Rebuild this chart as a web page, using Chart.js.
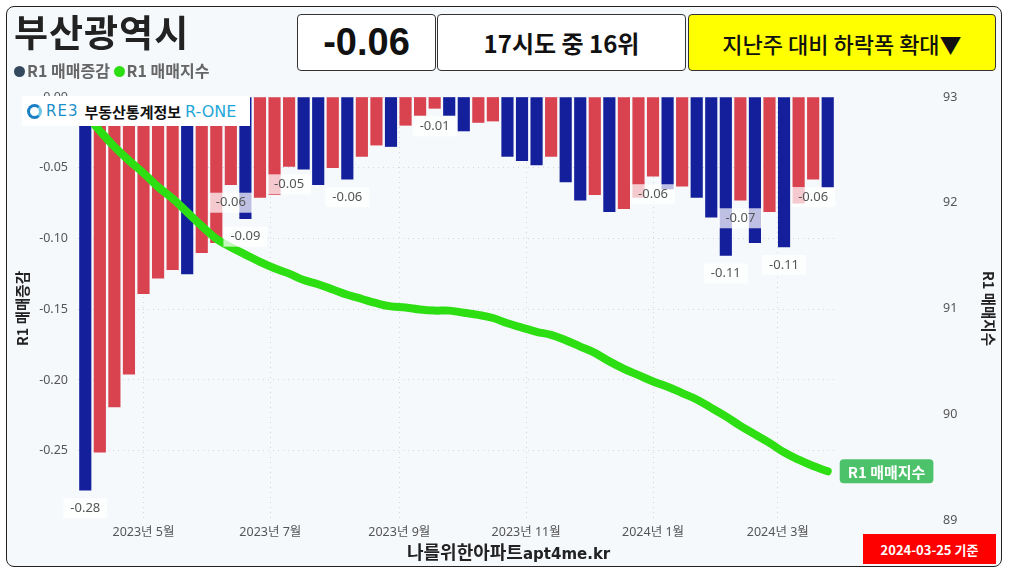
<!DOCTYPE html>
<html>
<head>
<meta charset="utf-8">
<script src="https://cdn.jsdelivr.net/npm/chart.js@4"></script>
<style>
  body { margin: 0; background: #fff; font-family: 'Noto Sans CJK KR', 'Noto Sans', sans-serif; }
  #wrap { position: relative; width: 1009px; height: 574px; overflow: hidden; }
  #card { position: absolute; left: 6px; top: 6px; width: 994px; height: 559px; border: 1.5px solid #222; border-radius: 8px; background: #f6f9fc; }
  #chart { position: absolute; left: 0; top: 0; }
  .ov { position: absolute; z-index: 2; }
  #title { left: 14px; top: 4px; font-size: 37px; font-weight: 700; color: #222; letter-spacing: 1px; }
  #legend { left: 14px; top: 58px; font-size: 16px; font-weight: 700; color: #666; }
  #legend .dot { display: inline-block; width: 11px; height: 11px; border-radius: 50%; margin-right: 2px; }
  .box { top: 14px; height: 55px; border: 1px solid #333; border-radius: 4px; background: #fff; display: flex; align-items: center; justify-content: center; color: #111; }
  #b1 { left: 297px; width: 137px; font-family: 'Liberation Sans', Arial, sans-serif; font-size: 38px; font-weight: 700; }
  #b2 { left: 437px; width: 247px; font-size: 24px; font-weight: 700; }
  #b3 { left: 688px; width: 306px; background: #ffff00; font-size: 22px; font-weight: 500; }
  #logo { left: 22px; top: 96px; width: 228px; height: 30px; background: #fff; display: flex; align-items: center; font-size: 15px; }
  #logo .ic { width: 9px; height: 9px; border: 3px solid #1a7fc4; border-right-color: #6cc6e8; border-radius: 50%; margin: 0 4px 0 5px; }
  #logo .re { color: #1b8fc9; font-family: 'DejaVu Sans'; font-size: 15px; letter-spacing: 1px; margin-right: 6px; }
  #logo .kr { color: #111; font-weight: 700; margin-right: 4px; }
  #logo .one { color: #1fa6d9; font-family: 'DejaVu Sans'; font-size: 16px; }
  #foot { left: 407px; top: 538px; font-size: 18px; font-weight: 700; color: #222; }
  #foot span { font-size: 15px; font-family: 'DejaVu Sans', sans-serif; }
  #badge { left: 863px; top: 534px; width: 133px; height: 30px; background: #ff0000; color: #fff; font-size: 13px; font-weight: 700; display: flex; align-items: center; justify-content: center; }
</style>
</head>
<body>
<div id="wrap">
  <div id="card"></div>
  <canvas id="chart" width="1009" height="574"></canvas>
  <div class="ov" id="title">부산광역시</div>
  <div class="ov" id="legend"><span class="dot" style="background:#34495e"></span>R1 매매증감 <span class="dot" style="background:#2ddf12"></span>R1 매매지수</div>
  <div class="ov box" id="b1">-0.06</div>
  <div class="ov box" id="b2">17시도 중 16위</div>
  <div class="ov box" id="b3">지난주 대비 하락폭 확대▼</div>
  <div class="ov" id="logo"><div class="ic"></div><span class="re">RE3</span><span class="kr">부동산통계정보</span><span class="one">R-ONE</span></div>
  <div class="ov" id="foot">나를위한아파트<span>apt4me.kr</span></div>
  <div class="ov" id="badge">2024-03-25 기준</div>
</div>
<script>
// weekly R1 data, Busan
const weeks = [
    '2023-04-03', '2023-04-10', '2023-04-17', '2023-04-24', '2023-05-01', '2023-05-08', '2023-05-15', '2023-05-22', '2023-05-29',
    '2023-06-05', '2023-06-12', '2023-06-19', '2023-06-26', '2023-07-03', '2023-07-10', '2023-07-17', '2023-07-24', '2023-07-31',
    '2023-08-07', '2023-08-14', '2023-08-21', '2023-08-28', '2023-09-04', '2023-09-11', '2023-09-18', '2023-09-25',
    '2023-10-02', '2023-10-09', '2023-10-16', '2023-10-23', '2023-10-30', '2023-11-06', '2023-11-13', '2023-11-20', '2023-11-27',
    '2023-12-04', '2023-12-11', '2023-12-18', '2023-12-25', '2024-01-01', '2024-01-08', '2024-01-15', '2024-01-22', '2024-01-29',
    '2024-02-05', '2024-02-12', '2024-02-19', '2024-02-26', '2024-03-04', '2024-03-11', '2024-03-18', '2024-03-25'
];
const weeklyChange = [
    -0.278, -0.251, -0.219, -0.196, -0.139, -0.128, -0.122, -0.125, -0.110, -0.103,
    -0.062, -0.086, -0.071, -0.069, -0.049, -0.051, -0.062, -0.050, -0.058, -0.042,
    -0.034, -0.035, -0.020, -0.013, -0.008, -0.013, -0.024, -0.018, -0.017, -0.042,
    -0.045, -0.048, -0.042, -0.060, -0.073, -0.069, -0.081, -0.079, -0.071, -0.056,
    -0.065, -0.063, -0.071, -0.085, -0.112, -0.073, -0.103, -0.081, -0.106, -0.075,
    -0.058, -0.064
];
const priceIndex = [
    92.84, 92.68, 92.53, 92.40, 92.28, 92.15, 92.04, 91.91, 91.78, 91.66,
    91.58, 91.51, 91.44, 91.38, 91.33, 91.27, 91.23, 91.18, 91.13, 91.09,
    91.05, 91.02, 91.01, 90.99, 90.98, 90.98, 90.96, 90.94, 90.91, 90.86,
    90.82, 90.78, 90.75, 90.70, 90.64, 90.58, 90.50, 90.43, 90.37, 90.31,
    90.26, 90.20, 90.14, 90.06, 89.98, 89.89, 89.81, 89.73, 89.64, 89.57,
    89.51, 89.46
];
const labeledWeeks = [0, 10, 11, 14, 18, 24, 39, 44, 45, 48, 50];
const monthTicks = ['2023-05-01', '2023-07-01', '2023-09-01', '2023-11-01', '2024-01-01', '2024-03-01'];
const monthLabels = ['2023년 5월', '2023년 7월', '2023년 9월', '2023년 11월', '2024년 1월', '2024년 3월'];
const leftTicks = [0, -0.05, -0.10, -0.15, -0.20, -0.25];
const rightTicks = [93, 92, 91, 90, 89];

const DAY = 86400000;
const t0 = Date.parse(weeks[0]);
function dayOf(d) { return (Date.parse(d) - t0) / DAY; }

const RED = '#d8434f', BLUE = '#141f9c', GREEN = '#2ddf12';
const tickFont = { family: "'Noto Sans', 'Noto Sans CJK KR', sans-serif", size: 12.5 };
const titleFont = { family: "'Noto Sans CJK KR', sans-serif", size: 14.5, weight: '700' };

const barData = weeks.map((w, i) => ({ x: dayOf(w), y: weeklyChange[i] }));
const lineData = weeks.map((w, i) => ({ x: dayOf(w), y: priceIndex[i] }));
// blue when the decline widened vs previous week
const barColors = weeklyChange.map((v, i) => (i === 0 || v < weeklyChange[i - 1]) ? BLUE : RED);

// fixed axis sizes, no label overflow padding
function fixSize(prop, size) {
    return s => {
        s[prop] = size;
        s.paddingTop = s.paddingBottom = s.paddingLeft = s.paddingRight = 0;
    };
}

const labelPlugin = {
    id: 'valueLabels',
    afterDatasetsDraw(chart) {
        const ctx = chart.ctx;
        const barMeta = chart.getDatasetMeta(1);
        ctx.save();
        ctx.font = "13px 'Noto Sans', sans-serif";
        ctx.textAlign = 'center';
        ctx.textBaseline = 'middle';
        labeledWeeks.forEach(i => {
            const el = barMeta.data[i];
            const txt = weeklyChange[i].toFixed(2);
            const w = ctx.measureText(txt).width + 14;
            const y = el.y + 18;
            ctx.fillStyle = 'rgba(255,255,255,0.72)';
            ctx.fillRect(el.x - w / 2, y - 10, w, 20);
            ctx.fillStyle = '#555';
            ctx.fillText(txt, el.x, y);
        });
        // series tag at the end of the index line
        const lineMeta = chart.getDatasetMeta(0);
        const last = lineMeta.data[lineMeta.data.length - 1];
        ctx.font = "bold 15px 'Noto Sans CJK KR', sans-serif";
        const tag = 'R1 매매지수';
        const tw = ctx.measureText(tag).width + 16;
        const tx = last.x + 12;
        ctx.fillStyle = '#4cc26a';
        ctx.beginPath();
        ctx.roundRect(tx, last.y - 12, tw, 24, 4);
        ctx.fill();
        ctx.fillStyle = '#fff';
        ctx.textAlign = 'left';
        ctx.fillText(tag, tx + 8, last.y + 1);
        ctx.restore();
    }
};

new Chart(document.getElementById('chart').getContext('2d'), {
    data: {
        datasets: [{
            type: 'line',
            label: 'R1 매매지수',
            data: lineData,
            yAxisID: 'y1',
            borderColor: GREEN,
            borderWidth: 8,
            borderCapStyle: 'round',
            pointRadius: 0,
            tension: 0.4,
            order: 0
        }, {
            type: 'bar',
            label: 'R1 매매증감',
            data: barData,
            yAxisID: 'y',
            backgroundColor: barColors,
            barThickness: 11.5,
            order: 1
        }]
    },
    options: {
        responsive: false,
        animation: false,
        devicePixelRatio: 1,
        layout: { autoPadding: false, padding: { top: 97, left: 0, right: 0, bottom: 0 } },
        plugins: { legend: { display: false }, tooltip: { enabled: false } },
        scales: {
            x: {
                type: 'linear',
                offset: false,
                min: -3.5,
                max: dayOf(weeks[weeks.length - 1]) + 3.5,
                afterBuildTicks: s => { s.ticks = monthTicks.map(d => ({ value: dayOf(d) })); },
                afterFit: fixSize('height', 54),
                ticks: {
                    font: tickFont, color: '#555', padding: 5, maxRotation: 0, autoSkip: false,
                    callback: (v) => monthLabels[monthTicks.findIndex(d => dayOf(d) === v)]
                },
                grid: { color: '#d4d8de', drawTicks: false, offset: false },
                border: { display: false, dash: [1, 4] }
            },
            y: {
                position: 'left',
                min: -0.299,
                max: 0,
                afterBuildTicks: s => { s.ticks = leftTicks.map(v => ({ value: v })); },
                afterFit: fixSize('width', 78),
                ticks: { font: tickFont, color: '#555', padding: 10, callback: v => v.toFixed(2) },
                title: { display: true, text: 'R1 매매증감', font: titleFont, color: '#222', padding: { top: 14, bottom: 0 } },
                grid: { color: '#d4d8de', drawTicks: false },
                border: { display: false, dash: [1, 4] }
            },
            y1: {
                position: 'right',
                min: 89,
                max: 93,
                afterBuildTicks: s => { s.ticks = rightTicks.map(v => ({ value: v })); },
                afterFit: fixSize('width', 174),
                ticks: { font: tickFont, color: '#555', padding: 108 },
                title: { display: true, text: 'R1 매매지수', font: titleFont, color: '#222', padding: { top: 12, bottom: 0 } },
                grid: { display: false, drawTicks: false },
                border: { display: false }
            }
        }
    },
    plugins: [labelPlugin]
});
</script>
</body>
</html>
